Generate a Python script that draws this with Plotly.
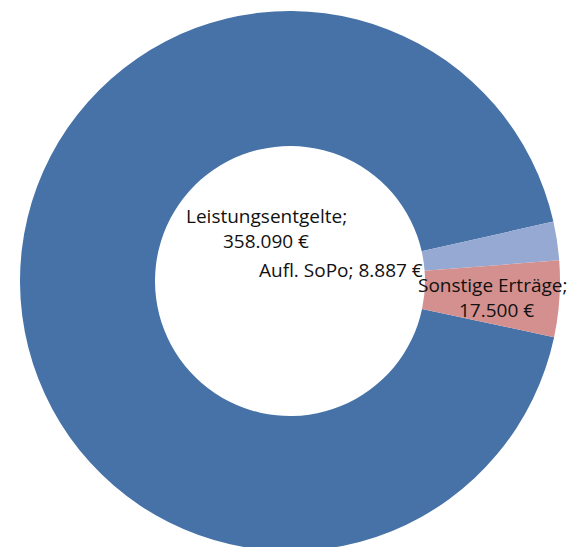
import plotly.graph_objects as go

categories = ["Leistungsentgelte", "Aufl. SoPo", "Sonstige Erträge"]
values = [358090, 8887, 17500]
colors = ["#4672A7", "#95A9D3", "#D4908E"]


def fmt_eur(v):
    return f"{v:,}".replace(",", ".") + " €"


W, H = 575, 547
OFF = 8  # page body margin
cx, cy, R = 290 - OFF, 281 - OFF, 270  # pixel layout of the ring (figure coords)


def clamp(v):
    return max(0.0, min(1.0, v))


fig = go.Figure(
    go.Pie(
        labels=categories,
        values=values,
        marker=dict(colors=colors, line=dict(width=0)),
        hole=0.5,
        sort=False,
        direction="clockwise",
        rotation=102,
        textinfo="none",
        hoverinfo="label+value",
        domain=dict(x=[clamp((cx - R) / W), clamp((cx + R) / W)],
                    y=[clamp(1 - (cy + R) / H), clamp(1 - (cy - R) / H)]),
        showlegend=False,
    )
)

font = dict(family="Open Sans, Calibri, sans-serif", size=19, color="#111111")
label_pos = [
    [(266, 216), (266, 241)],
    [(341, 270)],
    [(492, 285), (496, 310)],
]
anns = []
for cat, val, pos in zip(categories, values, label_pos):
    if len(pos) == 2:
        lines = [cat + ";", fmt_eur(val)]
    else:
        lines = [f"{cat}; {fmt_eur(val)}"]
    for (px, py), t in zip(pos, lines):
        anns.append(dict(x=(px - OFF) / W, y=1 - (py - OFF) / H, xref="paper", yref="paper", text=t,
                         showarrow=False, font=font, xanchor="center", yanchor="middle"))

fig.update_layout(
    width=W, height=H,
    margin=dict(l=0, r=0, t=0, b=0),
    paper_bgcolor="white", plot_bgcolor="white",
    annotations=anns,
)

fig.write_html("out.html")
